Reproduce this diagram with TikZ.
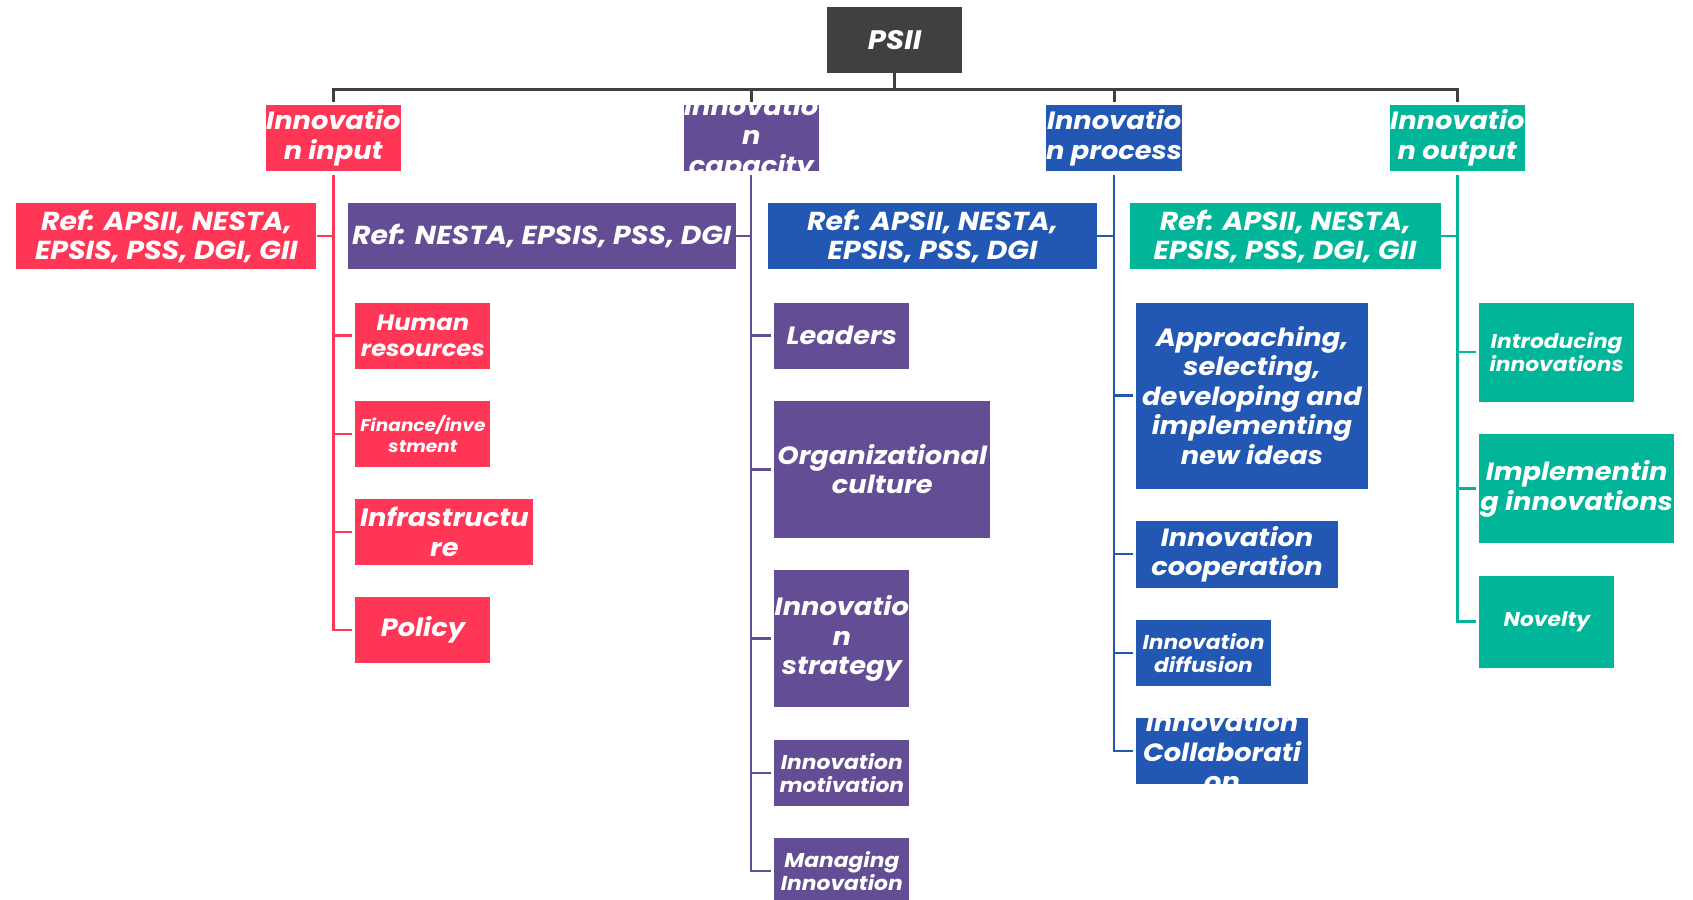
\documentclass[tikz,border=0pt]{standalone}
\usepackage{fontspec}
\setmainfont{Poppins}[FakeStretch=1.09]
\definecolor{cgray}{HTML}{404040}
\definecolor{cin}{HTML}{FF3655}
\definecolor{ccap}{HTML}{634E96}
\definecolor{cproc}{HTML}{2357B4}
\definecolor{cout}{HTML}{00B598}
\begin{document}
\begin{tikzpicture}[x=1pt,y=-1pt,
  box/.style={rectangle, inner sep=0pt, anchor=north west, text=white, align=center},
  sz/.style n args={2}{minimum width=#1pt, minimum height=#2pt},
  tA/.style={font=\bfseries\itshape\fontsize{26.7}{31}\selectfont},
  tB/.style={font=\bfseries\itshape\fontsize{25}{29.5}\selectfont},
  tR/.style={font=\bfseries\itshape\fontsize{26}{29}\selectfont},
  tD/.style={font=\bfseries\itshape\fontsize{22.2}{26}\selectfont},
  tE/.style={font=\bfseries\itshape\fontsize{20}{23}\selectfont},
  tF/.style={font=\bfseries\itshape\fontsize{17}{20.5}\selectfont},
  inbox/.style={box, fill=cin},
  capbox/.style={box, fill=ccap},
  procbox/.style={box, fill=cproc},
  outbox/.style={box, fill=cout},
  bus/.style={draw=cgray, line width=3pt},
  wire/.style={line width=2.5pt},
]
\useasboundingbox (0,0) rectangle (1693,899);

% root
\node[box, fill=cgray, sz={135}{66}, tA] (psii) at (827,6.5) {PSII};

% first level
\node[inbox, sz={135}{66}, tB] (in) at (265.6,104.7) {Innovatio\\n input};
\node[capbox, sz={135}{66}] (cap) at (683.5,104.7) {};
\begin{scope}
  \clip (cap.south west) rectangle (cap.north east);
  \node[text=white, align=center, tB] (captext) at (cap.center) {Innovatio\\n\\capacity};
\end{scope}
\node[procbox, sz={135}{66}, tB] (proc) at (1046,104.7) {Innovatio\\n process};
\node[outbox, sz={135}{66}, tB] (out) at (1389.6,104.7) {Innovatio\\n output};

% bus from root
\foreach \t in {in,cap,proc,out}
  \draw[bus] (psii.south) -- ++(0,16.2) -| ([yshift=3pt]\t.north);

% references
\node[inbox, sz={300}{66}, tR] (refin) at (16.2,203) {Ref: APSII, NESTA,\\EPSIS, PSS, DGI, GII};
\node[capbox, sz={387.6}{66}, tR] (refcap) at (347.7,203) {Ref: NESTA, EPSIS, PSS, DGI};
\node[procbox, sz={329.3}{66}, tR] (refproc) at (767.7,203) {Ref: APSII, NESTA,\\EPSIS, PSS, DGI};
\node[outbox, sz={311}{66}, tR] (refout) at (1129.4,203) {Ref: APSII, NESTA,\\EPSIS, PSS, DGI, GII};

% innovation input
\node[inbox, sz={135}{66}, tD] (hr) at (355.2,302.3) {Human\\resources};
\node[inbox, sz={135}{66}, tF] (fin) at (355.2,400.6) {Finance/inve\\stment};
\node[inbox, sz={178}{66}, tB] (infra) at (355.2,498.8) {Infrastructu\\re};
\node[inbox, sz={135}{66}, tB] (pol) at (355.2,597) {Policy};

% innovation capacity
\node[capbox, sz={135}{66}, tB] (lead) at (774.1,302.3) {Leaders};
\node[capbox, sz={216}{137}, tB] (org) at (774.1,400.6) {Organizational\\culture};
\node[capbox, sz={135}{137}, tB] (strat) at (774.1,570) {Innovatio\\n\\strategy};
\node[capbox, sz={135}{66}, tE] (motiv) at (774.1,739.6) {Innovation\\motivation};
\node[capbox, sz={135}{66}, tE] (manag) at (774.1,837.8) {Managing\\Innovation};

% innovation process
\node[procbox, sz={232}{186}, tB] (appr) at (1135.8,302.3) {Approaching,\\selecting,\\developing and\\implementing\\new ideas};
\node[procbox, sz={202}{67}, tB] (coop) at (1135.8,520.4) {Innovation\\cooperation};
\node[procbox, sz={135}{66}, tE] (diff) at (1135.8,619.7) {Innovation\\diffusion};
\node[procbox, sz={172}{66}] (collab) at (1135.8,718) {};
\begin{scope}
  \clip (collab.south west) rectangle (collab.north east);
  \node[text=white, align=center, tB] (collabtext) at (collab.center) {Innovation\\Collaborati\\on};
\end{scope}

% innovation output
\node[outbox, sz={154.4}{99.3}, tE] (intro) at (1479.2,302.3) {Introducing\\innovations};
\node[outbox, sz={194.4}{109}, tB] (impl) at (1479.2,434) {Implementin\\g innovations};
\node[outbox, sz={135}{92}, tE] (nov) at (1479.2,575.5) {Novelty};

% branch connectors
\draw[wire, draw=cin] ([yshift=-4pt]in.south) |- (refin.east);
\foreach \c in {hr,fin,infra,pol}
  \draw[wire, draw=cin] ([yshift=-4pt]in.south) |- ([xshift=-3pt]\c.west);

\draw[wire, draw=ccap] ([yshift=-4pt]cap.south) |- (refcap.east);
\foreach \c in {lead,org,strat,motiv,manag}
  \draw[wire, draw=ccap] ([yshift=-4pt]cap.south) |- ([xshift=-3pt]\c.west);

\draw[wire, draw=cproc] ([yshift=-4pt]proc.south) |- (refproc.east);
\foreach \c in {appr,coop,diff,collab}
  \draw[wire, draw=cproc] ([yshift=-4pt]proc.south) |- ([xshift=-3pt]\c.west);

\draw[wire, draw=cout] ([yshift=-4pt]out.south) |- (refout.east);
\foreach \c in {intro,impl,nov}
  \draw[wire, draw=cout] ([yshift=-4pt]out.south) |- ([xshift=-3pt]\c.west);
\end{tikzpicture}
\end{document}
